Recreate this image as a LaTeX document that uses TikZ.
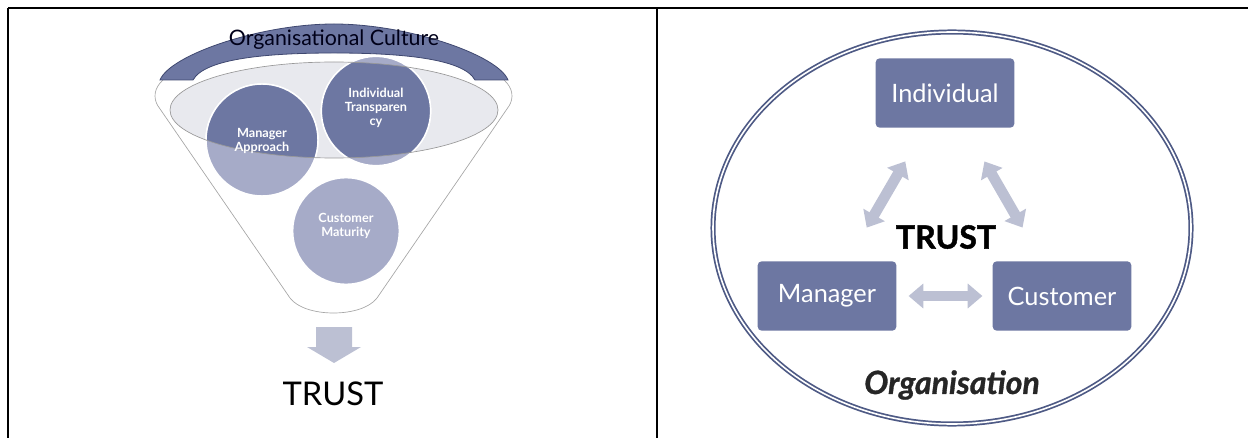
\documentclass[tikz,border=0pt]{standalone}
\usepackage{fontspec}
\setmainfont{Lato}
\newfontfamily\heavyfont{Lato}[UprightFeatures={FakeBold=1.5},BoldFeatures={FakeBold=1.5},BoldItalicFeatures={FakeBold=1}]
\usetikzlibrary{arrows.meta}
\definecolor{slate}{HTML}{6D77A2}
\definecolor{slatelight}{HTML}{A6ABC8}
\definecolor{slatedark}{HTML}{3F4870}
\definecolor{lav}{HTML}{BCC0D3}
\definecolor{ringcol}{HTML}{4E5A85}
\definecolor{funnelgrey}{HTML}{E8E9EE}
\begin{document}
\begin{tikzpicture}
		[x=0.75pt,y=-0.75pt,
		mybox/.style={rectangle,rounded corners=3pt,fill=slate,text=white,minimum width=104pt,minimum height=52pt,font=\fontsize{19}{20}\selectfont},
		mycircle/.style={circle,fill=slatelight,draw=white,line width=1.1pt,minimum size=#1},
		circtext/.style={text=white,align=center,font=\bfseries\fontsize{9.5}{10.5}\selectfont},
		biarrow/.style={draw=lav,line width=8pt,{Triangle[width=18pt,length=11pt]}-{Triangle[width=18pt,length=11pt]}}]
		\useasboundingbox (0,0) rectangle (1248,438);
		% table rules
		\draw[line width=1.1pt] (8,8) -- (1248,8) (8,8) -- (8,438) (657,8) -- (657,438);
		% funnel
		\draw[draw=gray!70,fill=white,line width=0.5pt] (163,80) .. controls (154,88) and (153,98) .. (158,106) -- (290,298) .. controls (305,318) and (362,318) .. (377,298) -- (509,106) .. controls (514,98) and (513,88) .. (504,80);
		\fill[funnelgrey] (334,110) ellipse[x radius=164,y radius=48];
		\node[mycircle=84pt] (mgrc) at (262,140) {};
		\node[mycircle=82pt] (indc) at (376,111) {};
		\node[mycircle=80pt] (cusc) at (346,231) {};
		\begin{scope}
			\clip (334,110) ellipse[x radius=164,y radius=48];
			\foreach \c/\s in {mgrc/84pt,indc/82pt,cusc/80pt}
			{
				\node[mycircle=\s,fill=slate,name=\c-dk] at (\c) {};
			}
		\end{scope}
		\draw[gray!80,line width=0.5pt] (334,110) ellipse[x radius=164,y radius=48];
		% culture band
		\draw[fill=slate,draw=slatedark,line width=0.6pt] (160,80) .. controls (170,55) and (260,24) .. (334,24) .. controls (408,24) and (498,55) .. (508,80) -- (475,80) .. controls (463,58) and (398,53) .. (334,53) .. controls (270,53) and (205,58) .. (193,80) -- cycle;
		\node[font=\fontsize{16}{17}\selectfont,text=black!90!blue] (culture) at (334,40) {Organisational Culture};
		\node[circtext] (mgrtxt) at (262,141) {Manager\\Approach};
		\node[circtext] (indtxt) at (376,108) {Individual\\Transparen\\cy};
		\node[circtext] (custxt) at (346,226) {Customer\\Maturity};
		\fill[lav] (316,327) -- (352,327) -- (352,347) -- (361,347) -- (334,363) -- (307,347) -- (316,347) -- cycle;
		\node[font=\fontsize{24.5}{26}\selectfont] (trustl) at (333,394) {TRUST};
		% organisation
		\draw[ringcol,double=white,double distance=1.2pt,line width=1.3pt] (952,228) ellipse[x radius=239,y radius=196];
		\node[mybox] (individual) at (945,93) {Individual};
		\node[mybox] (manager) at (827,296) {Manager};
		\node[mybox] (customer) at (1062,296) {Customer};
		\node[font=\heavyfont\bfseries\fontsize{24}{26}\selectfont] (trustr) at (946,237) {TRUST};
		\node[font=\heavyfont\bfseries\itshape\fontsize{24}{26}\selectfont,text=black!85] (org) at (952,385) {Organisation};
		\draw[biarrow,shorten <=29pt,shorten >=29pt] (manager) -- (individual);
		\draw[biarrow,shorten <=29pt,shorten >=29pt] (individual) -- (customer);
		\draw[biarrow,shorten <=9pt,shorten >=7.5pt] (manager) -- (customer);
	\end{tikzpicture}
\end{document}
